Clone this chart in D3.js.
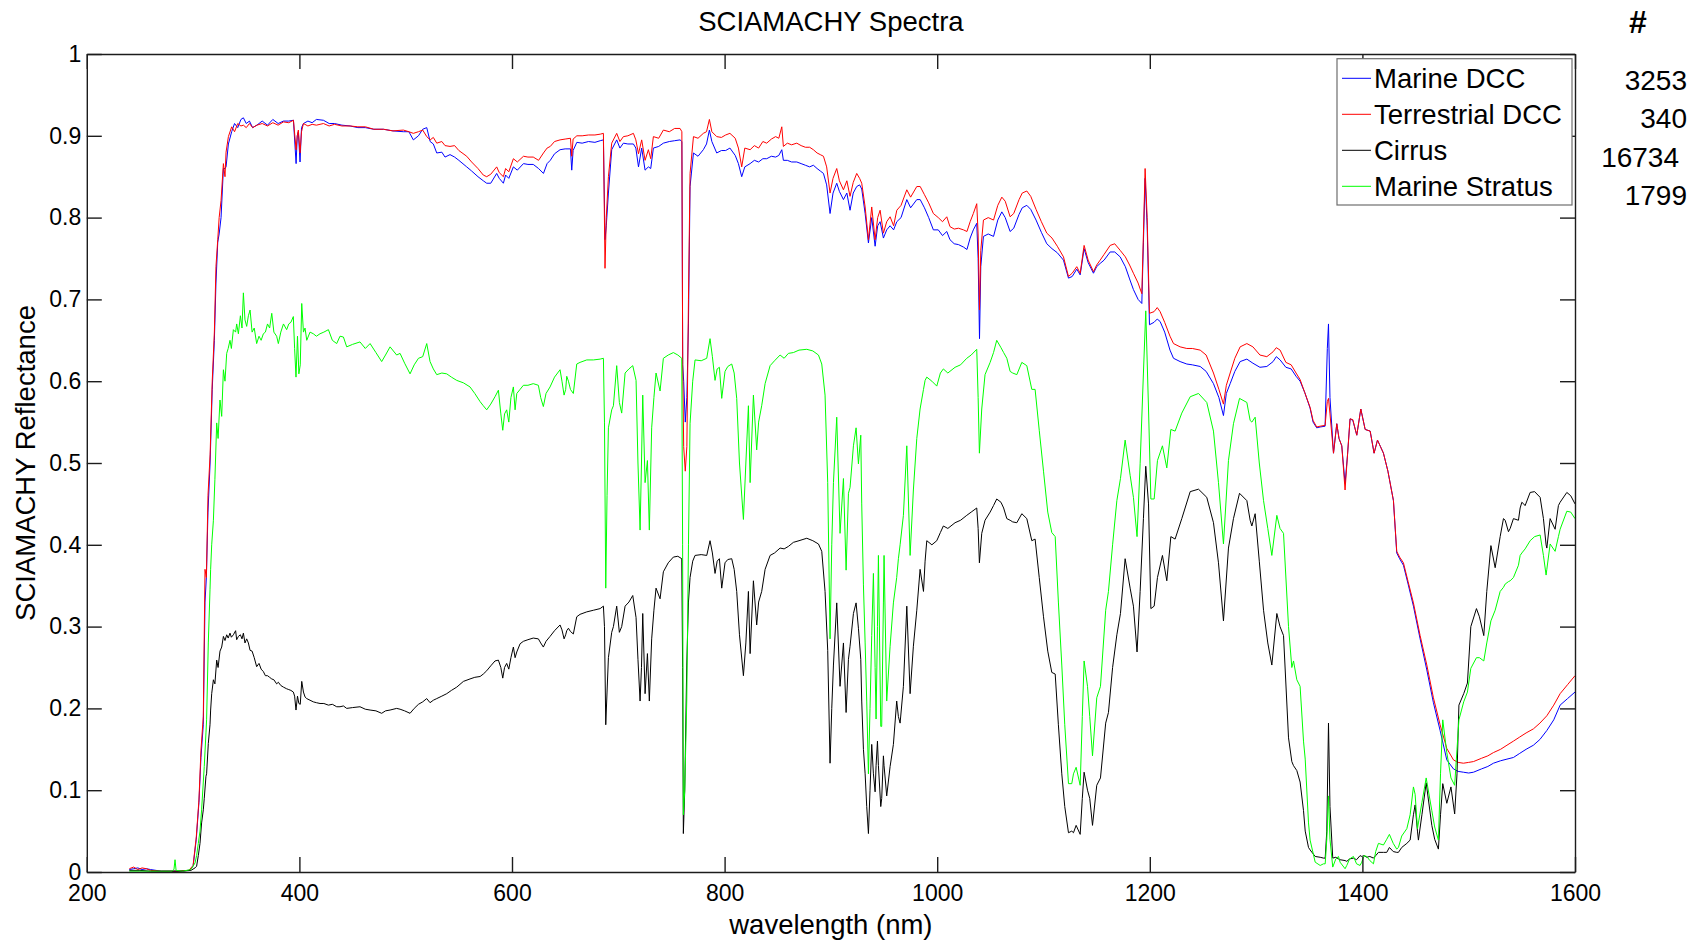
<!DOCTYPE html>
<html>
<head>
<meta charset="utf-8">
<script src="https://cdn.jsdelivr.net/npm/d3@7"></script>
<style>
  html, body { margin: 0; padding: 0; background: #fff; }
  svg { display: block; }
  text { font-family: "Liberation Sans", Arial, Helvetica, sans-serif; fill: #000; }
</style>
</head>
<body>
<svg id="chart" width="1701" height="943"></svg>
<script>
// ---------------------------------------------------------------
// Mean SCIAMACHY reflectance spectra for four cloud classes
// ---------------------------------------------------------------

// Wavelength grid (nm) shared by the two deep-convective-cloud spectra
const dccWavelength = [
  240, 244, 248, 252, 256, 260, 270, 285, 296, 300, 303, 305.5, 307.4, 309.6, 311.2, 312.5, 314, 316, 318, 320, 321.5, 323.2, 324.5, 326.3, 328.5, 330, 331, 333.2, 336.3,
  339, 342, 345, 347.3, 350, 353, 356, 360, 365, 370, 375, 380, 385, 390, 394.4, 396.9, 398, 399, 400.6, 402, 403.8,
  408, 412, 416, 422.6, 428, 433, 440, 447.7, 455, 462, 470, 479, 488, 497.8,
  503, 507.2, 512, 516, 519.8, 523, 526, 529.2, 534, 537, 541.7, 546, 550, 557.4, 562, 568, 573, 576.2, 580, 585.6, 588, 591.9, 594, 597,
  601.3, 605, 610.8, 615, 620, 625, 629.6, 633, 636, 640, 645.2, 650, 655, 656.2, 657.5, 661, 666, 672, 678, 683, 686, 687.5, 688.7, 690.7, 693.8, 698.5,
  701.5, 704.8, 709, 714.2, 716.5, 719, 722, 725.2, 728.3, 730.5, 733, 738, 742.4, 748, 753, 758.1, 759.8, 760.6, 761.5, 763, 764.5, 766, 767.5, 770.7, 775, 780, 783, 785.7, 788, 792.6, 797,
  801, 805, 810, 813, 816.1, 819, 824, 828, 832, 836, 839.6, 844, 848, 851, 853.8, 855.3, 859, 863, 867.9, 872, 876, 880, 883.5, 887, 890, 893, 896, 899.2,
  902, 905.5, 908, 911.8, 915, 918, 921, 924.3, 927, 929, 932.2, 935.3, 938.4, 941.6, 944, 946.3, 949.4, 952.5, 955.7, 959, 962, 966, 971.4, 975, 980.8, 984, 988, 992, 996.4,
  1001, 1005, 1009, 1012, 1016, 1020, 1024.7, 1028, 1031, 1034, 1037.2, 1038.5, 1039.8, 1041, 1043.5, 1048, 1053, 1057, 1060.8, 1064, 1068.6, 1072, 1077, 1080, 1084.3, 1088, 1093, 1098,
  1103.1, 1108, 1113, 1118.8, 1123.5, 1127, 1131.3, 1134.5, 1138.2, 1142, 1147, 1150, 1153.3, 1157, 1162.7, 1167, 1172.1, 1177, 1181, 1184.6, 1189, 1192.5, 1194, 1195.6, 1197.5, 1199.7,
  1204, 1207, 1209.7, 1214, 1219, 1222.3, 1228.5, 1234.8, 1240, 1247.4, 1253, 1259.9, 1265, 1269.3, 1272, 1275.6, 1280, 1285, 1291.3, 1297,
  1303.6, 1310.1, 1316, 1319, 1322.6, 1328, 1333, 1337.6, 1341.4, 1345.8, 1350.8, 1353.6, 1357, 1360.2, 1364.9, 1367, 1368.1, 1369.5, 1372.8, 1375.9, 1378, 1380.6, 1383.7, 1386, 1388.4, 1391, 1394.7, 1398.5,
  1402.6, 1407.3, 1411, 1414.2, 1417, 1419.8, 1424, 1429.2, 1432.3, 1435, 1438.6, 1443, 1448, 1454.3, 1460.6, 1466.8, 1473.1, 1479.4, 1485.7, 1490, 1495,
  1500, 1504.5, 1512, 1518, 1523.3, 1530, 1536, 1542.1, 1548, 1554, 1560.9, 1567, 1573.5, 1580, 1586, 1593, 1600
];

const terrestrialDCC = [
  .004, .006, .003, .005, .004, .002, .001, .001, .002, .008, .043, .088, .149, .19, .37, .36, .46, .51, .60, .66, .74, .773, .80, .821, .866, .85, .88, .899, .911,
  .905, .915, .912, .913, .91, .915, .91, .913, .915, .912, .916, .913, .917, .916, .919, .883, .90, .907, .879, .905, .915,
  .912, .914, .913, .915, .912, .914, .912, .912, .911, .911, .908, .908, .906, .907,
  .905, .903, .905, .907, .899, .895, .898, .891, .893, .888, .887, .888, .882, .875, .868, .86, .852, .85, .853, .862, .855, .85, .86, .856,
  .872, .868, .875, .874, .874, .87, .879, .885, .887, .893, .895, .896, .897, .875, .896, .9, .9, .901, .901, .902, .903, .738, .80, .85, .891, .903,
  .893, .899, .9, .903, .895, .878, .895, .87, .883, .872, .899, .897, .907, .905, .909, .909, .905, .62, .52, .49, .52, .70, .854, .899, .897, .903, .905, .92, .905, .899, .898,
  .901, .903, .897, .885, .862, .885, .883, .888, .885, .893, .891, .896, .899, .897, .911, .887, .891, .889, .891, .888, .886, .886, .883, .879, .877, .875, .862, .83,
  .848, .86, .845, .834, .845, .826, .843, .854, .848, .842, .813, .773, .813, .773, .80, .809, .781, .795, .801, .79, .809, .815, .834, .825, .838, .838, .828, .818, .805,
  .80, .795, .801, .789, .786, .787, .785, .783, .795, .805, .817, .78, .687, .76, .797, .80, .797, .815, .825, .82, .801, .805, .822, .83, .8325, .826, .81, .795,
  .781, .775, .765, .752, .728, .732, .74, .732, .766, .748, .734, .742, .748, .755, .766, .768, .76, .752, .742, .732, .72, .707, .78, .86, .80, .683,
  .685, .69, .685, .672, .655, .646, .642, .64, .64, .638, .632, .61, .59, .572, .595, .61, .628, .642, .646, .642,
  .632, .63, .636, .641, .638, .623, .62, .61, .602, .586, .568, .552, .544, .545, .546, .575, .579, .56, .512, .548, .53, .521, .467, .51, .554, .553, .534, .566,
  .541, .539, .512, .528, .52, .512, .49, .454, .392, .385, .378, .355, .329, .289, .253, .213, .18, .151, .137, .134, .133,
  .134, .135, .139, .142, .146, .15, .155, .16, .165, .17, .175, .182, .191, .204, .218, .229, .24
];

const marineDCC = [
  .003, .004, .005, .003, .004, .003, .001, .001, .002, .007, .040, .085, .140, .18, .33, .36, .44, .50, .59, .65, .72, .77, .78, .80, .86, .86, .862, .89, .905,
  .915, .91, .92, .922, .915, .918, .91, .913, .918, .913, .92, .915, .918, .918, .919, .866, .90, .905, .868, .91, .915,
  .918, .916, .92, .919, .915, .915, .913, .912, .91, .91, .908, .908, .906, .905,
  .905, .895, .90, .908, .91, .893, .89, .879, .88, .874, .877, .874, .87, .862, .857, .85, .845, .842, .842, .854, .848, .842, .852, .848,
  .862, .858, .866, .865, .865, .86, .854, .866, .87, .878, .883, .884, .884, .858, .882, .892, .891, .893, .892, .894, .895, .773, .79, .83, .883, .895,
  .885, .891, .89, .89, .885, .862, .885, .858, .862, .86, .885, .887, .891, .893, .894, .895, .893, .62, .60, .55, .58, .67, .838, .879, .875, .883, .89, .907, .893, .879, .882,
  .882, .885, .876, .866, .85, .862, .866, .87, .868, .872, .872, .875, .874, .876, .883, .87, .87, .868, .868, .866, .864, .862, .864, .86, .857, .854, .84, .805,
  .83, .842, .832, .822, .83, .809, .83, .838, .84, .835, .805, .769, .80, .765, .79, .795, .775, .785, .79, .785, .795, .80, .822, .812, .822, .822, .812, .80, .785,
  .785, .778, .783, .773, .768, .767, .764, .761, .775, .785, .793, .75, .652, .74, .777, .78, .777, .797, .807, .80, .783, .787, .804, .812, .815, .81, .797, .782,
  .768, .762, .757, .748, .726, .728, .737, .73, .762, .745, .732, .74, .744, .748, .758, .758, .752, .74, .725, .712, .70, .695, .77, .848, .79, .669,
  .672, .676, .673, .66, .638, .628, .624, .621, .62, .618, .612, .597, .58, .558, .585, .597, .612, .624, .627, .622,
  .617, .618, .624, .63, .626, .617, .615, .606, .60, .586, .567, .55, .543, .544, .545, .64, .67, .58, .512, .548, .53, .521, .475, .51, .554, .552, .534, .566,
  .541, .539, .512, .528, .52, .512, .49, .454, .39, .383, .375, .352, .325, .285, .247, .207, .173, .137, .126, .123, .122,
  .121, .122, .126, .129, .133, .136, .138, .14, .145, .15, .155, .162, .173, .186, .204, .212, .22
];

// Wavelength grid (nm) shared by the cirrus and marine stratus spectra
const cloudWavelength = [
  240, 250, 260, 270, 280, 282, 283, 284, 290, 298, 301.8, 303.3, 304.9, 306.5, 308, 309.6, 310.5, 312.1, 312.7, 314.3, 315.9, 316.5, 317.5, 319.1, 320.5, 322.2, 323.5, 325.3, 326.9, 328.5, 330, 331.6, 333, 334.7, 336, 337.9, 340,
  341, 342.6, 344.5, 346, 347.3, 348.8, 350.4, 352, 353.6, 355.5, 357.5, 359.8, 362, 364, 366.1, 368, 370, 372, 374, 376, 378.6, 380.2, 382.5, 385, 388, 390, 392, 394.3, 395.5, 396.8, 398.2, 399.5, 400.8,
  402.2, 403.8, 405.3, 406.9, 410, 413.1, 416, 419.4, 423, 427.3, 431, 435.1, 438.2, 441.4, 444.5, 450, 457, 462, 466.5, 472, 477.4, 481, 485.3, 491.5, 494.7, 499,
  504.1, 508, 512, 516, 519.8, 522.9, 526, 529.2, 534, 538.6, 543, 548, 554.3, 560.5, 565, 570, 573, 576.2, 580, 584, 587.2, 589.5, 591.3, 593, 595, 597, 599,
  601.3, 602.9, 604.5, 607.6, 610.7, 615, 620, 624.8, 627, 629.5, 632, 635.8, 640, 645.2, 647, 649, 650.5, 651.5, 653.1, 655, 657.7, 660.9, 664, 670.3, 676.6, 682.9, 686, 687, 688.2, 689.4, 690.7, 693.8, 695.4, 698.5,
  701, 703.2, 706.4, 710, 713.6, 716.7, 718.5, 720.5, 721.8, 723, 725.2, 727.4, 729.2, 731.4, 733.5, 735.5, 739.3, 742.4, 747, 751.8, 756, 759.7, 760.5, 761.2, 762.5, 764.4, 766, 767.5, 770, 772.2, 778, 783.2, 786.3, 788.5, 791, 793, 795.1, 797.3,
  800.4, 803, 806.7, 809, 811.4, 814, 817.7, 820, 822.4, 824, 827.1, 830.2, 832, 834.9, 838.1, 842.8, 847, 852.2, 856, 860, 864.7, 870, 877.3, 883, 888.3, 891.4, 894.5, 897, 899.2,
  900.8, 902.4, 905.5, 908.6, 911.8, 914.3, 916.5, 918, 921.2, 923.7, 925.9, 928.1, 929, 930.6, 932.2, 933.7, 935.3, 936.8, 938.4, 940, 941.6, 942.5, 943.8, 944.7, 946.9, 947.8, 949.4, 950, 952.5, 955.7, 958.8, 961.9, 963.5, 965.1, 968.2, 971.4, 974.5, 977.6, 980.8, 983.9, 987.1, 988.6, 990.2, 995, 999.6,
  1003, 1005.8, 1010, 1016.8, 1022, 1027.8, 1032, 1037.2, 1038.5, 1039.7, 1041.9, 1045, 1049.8, 1053, 1056, 1060, 1062.5, 1065.5, 1068.6, 1071, 1074.9, 1079.6, 1084.3, 1089, 1092.1, 1096,
  1100, 1104, 1107.8, 1111, 1114, 1117.2, 1120, 1123.5, 1126.6, 1128.2, 1130.7, 1134.5, 1136.5, 1138.2, 1141.4, 1143.5, 1146.1, 1150.1, 1153.6, 1158.5, 1161.1, 1165, 1169, 1172.4, 1176.8, 1181.5, 1184.6, 1188, 1190.9, 1194, 1196.2, 1198.8,
  1201, 1204.1, 1207.2, 1211.9, 1216, 1219.8, 1223.8, 1230.1, 1238, 1245.8, 1253.6, 1259.9, 1264.6, 1269.3, 1274, 1278.7, 1284.4, 1291.3, 1294.4, 1296, 1299.1,
  1303, 1307, 1311, 1314.8, 1319.5, 1322.5, 1325.8, 1330.5, 1333.6, 1335.2, 1338.3, 1341.4, 1344.6, 1346.2, 1349.3, 1350.8, 1355.6, 1360.3, 1363.4, 1365, 1366.5, 1368.1, 1369.5, 1372.1, 1375, 1377.5, 1379, 1383.7, 1385.3, 1388, 1391.6, 1394.5, 1397.8, 1399.4,
  1401.5, 1404.1, 1407, 1410.4, 1412.5, 1415.1, 1419.8, 1422.9, 1425.4, 1429, 1432.3, 1433.9, 1437, 1441.8, 1444.9, 1448, 1449.6, 1451.8, 1452.7, 1456, 1460, 1465.3, 1468, 1471.5, 1473.5, 1475.6, 1479.4, 1483.3, 1486.8, 1489, 1490.8, 1495.3, 1498.8,
  1502, 1507.3, 1510.1, 1514.2, 1517, 1520.9, 1524.9, 1529.6, 1532.7, 1534.3, 1537.4, 1539, 1542.1, 1546.8, 1548.4, 1550, 1553.1, 1557.8, 1562, 1567.2, 1570.3, 1572.8, 1573.5, 1576.6, 1581.3, 1584.4, 1586, 1592.3, 1596, 1600
];

const cirrus = [
  .002, .002, .001, .001, .001, .001, .001, .001, .001, .002, .005, .007, .02, .035, .06, .076, .09, .117, .12, .157, .18, .198, .218, .235, .23, .259, .25, .27, .275, .288, .283, .29, .286, .292, .287, .29, .295,
  .284, .288, .29, .285, .292, .28, .285, .28, .271, .27, .262, .251, .255, .248, .245, .24, .24, .238, .236, .235, .23, .232, .228, .226, .224, .223, .222, .22, .215, .198, .215, .206, .205,
  .233, .22, .214, .212, .21, .208, .207, .206, .206, .204, .205, .202, .202, .203, .2, .201, .202, .199, .198, .197, .194, .197, .198, .2, .199, .197,
  .194, .2, .205, .208, .212, .207, .21, .212, .215, .218, .222, .226, .233, .236, .238, .239, .242, .246, .252, .258, .259, .25, .237, .25, .255, .248, .262,
  .275, .262, .269, .279, .282, .284, .286, .285, .28, .275, .282, .288, .295, .302, .296, .285, .29, .295, .298, .294, .291, .312, .315, .318, .32, .322, .325, .30, .18, .22, .262, .293, .30, .325,
  .293, .30, .325, .33, .338, .311, .26, .209, .25, .316, .218, .267, .209, .285, .32, .347, .334, .367, .378, .385, .386, .383, .25, .047, .10, .253, .33, .36, .38, .387, .388, .387, .405, .39, .365, .38, .383, .347,
  .378, .382, .383, .37, .343, .29, .24, .28, .343, .267, .356, .302, .33, .343, .37, .387, .39, .396, .395, .398, .403, .405, .408, .405, .401, .392, .343, .271, .133,
  .2, .253, .329, .227, .28, .195, .26, .276, .316, .329, .298, .26, .209, .15, .12, .08, .047, .10, .156, .12, .098, .13, .16, .13, .08, .09, .142, .13, .093, .129, .156, .209, .19, .182, .227, .325, .218, .276, .32, .37, .343, .38, .405, .40, .405,
  .415, .423, .42, .427, .43, .436, .44, .445, .42, .378, .414, .43, .44, .448, .456, .452, .445, .432, .43, .428, .427, .438, .432, .405, .407, .36,
  .312, .27, .244, .242, .18, .12, .08, .048, .05, .048, .057, .046, .09, .122, .1, .09, .057, .106, .115, .182, .195, .25, .29, .316, .383, .347, .325, .269, .343, .432, .496, .45,
  .322, .325, .36, .387, .356, .41, .407, .432, .465, .468, .458, .427, .378, .307, .396, .432, .463, .454, .43, .423, .438,
  .38, .32, .28, .253, .316, .30, .289, .164, .135, .13, .124, .11, .075, .05, .03, .027, .019, .018, .017, .017, .05, .182, .08, .017, .018, .016, .015, .014, .013, .016, .017, .015, .02, .019,
  .02, .018, .019, .017, .02, .024, .024, .024, .03, .025, .024, .024, .03, .035, .039, .07, .082, .05, .039, .07, .109, .057, .04, .028, .07, .108, .084, .104, .071, .12, .204, .218, .231,
  .30, .322, .312, .289, .343, .399, .372, .41, .432, .43, .416, .42, .432, .43, .445, .452, .448, .464, .465, .458, .432, .40, .396, .432, .419, .448, .452, .464, .46, .45
];

const marineStratus = [
  .001, .001, .001, .001, .001, .003, .015, .002, .001, .003, .011, .02, .035, .05, .076, .11, .129, .17, .186, .28, .345, .37, .40, .43, .48, .549, .53, .577, .557, .614, .60, .634, .64, .65, .64, .663, .66,
  .67, .658, .68, .665, .708, .675, .667, .68, .687, .66, .665, .646, .655, .65, .658, .66, .67, .665, .683, .66, .655, .646, .66, .67, .663, .67, .672, .679, .64, .605, .655, .609, .62,
  .695, .66, .665, .65, .66, .658, .655, .658, .66, .663, .65, .646, .655, .654, .642, .645, .648, .64, .646, .635, .624, .632, .642, .632, .634, .622,
  .609, .62, .628, .63, .646, .624, .615, .608, .61, .609, .605, .601, .598, .593, .585, .575, .57, .565, .572, .581, .589, .56, .54, .56, .565, .55, .58,
  .593, .565, .585, .59, .595, .595, .597, .595, .58, .569, .585, .593, .605, .614, .60, .583, .59, .606, .60, .59, .585, .621, .623, .626, .626, .627, .628, .55, .347, .46, .543, .565, .57, .619,
  .574, .561, .61, .615, .619, .601, .50, .418, .50, .583, .476, .503, .418, .543, .58, .61, .588, .628, .632, .635, .632, .628, .40, .07, .10, .209, .40, .548, .60, .626, .625, .628, .652, .63, .601, .615, .617, .579,
  .612, .618, .621, .61, .579, .50, .431, .50, .57, .476, .583, .516, .55, .57, .597, .619, .625, .632, .628, .634, .635, .638, .639, .637, .632, .621, .583, .476, .285,
  .40, .476, .556, .414, .481, .369, .463, .47, .521, .543, .499, .534, .45, .351, .28, .209, .12, .2, .289, .365, .25, .187, .3, .387, .178, .178, .33, .387, .209, .276, .329, .36, .383, .40, .436, .521, .387, .467, .53, .566, .59, .601, .605, .60, .594,
  .61, .615, .61, .617, .62, .628, .632, .639, .58, .512, .566, .608, .623, .635, .65, .641, .635, .628, .612, .61, .608, .623, .619, .59, .59, .54,
  .49, .44, .415, .41, .33, .253, .18, .108, .108, .12, .128, .106, .19, .258, .227, .19, .142, .213, .227, .32, .343, .40, .454, .481, .528, .485, .458, .41, .499, .61, .686, .566,
  .456, .456, .503, .521, .494, .541, .539, .561, .581, .585, .574, .539, .476, .401, .503, .548, .579, .574, .552, .55, .556,
  .50, .454, .42, .387, .436, .42, .414, .30, .25, .258, .235, .227, .16, .138, .06, .039, .012, .008, .01, .01, .04, .093, .04, .006, .016, .019, .012, .004, .008, .016, .019, .01, .008, .012,
  .02, .019, .014, .01, .025, .035, .033, .04, .046, .035, .028, .03, .044, .053, .07, .104, .095, .053, .06, .085, .115, .075, .055, .039, .12, .186, .146, .115, .106, .15, .186, .208, .22,
  .249, .262, .262, .258, .28, .307, .32, .343, .348, .352, .355, .356, .36, .375, .387, .39, .395, .405, .41, .412, .387, .363, .37, .401, .392, .41, .419, .441, .44, .432
];

// Legend entries, drawing colours and the number of averaged spectra per class
const seriesNames = ["Marine DCC", "Terrestrial DCC", "Cirrus", "Marine Stratus"];
const seriesColors = ["#0000ff", "#ff0000", "#000000", "#00ff00"];
const sampleCounts = ["3253", "340", "16734", "1799"];

// Axis ticks
const xTicks = [200, 400, 600, 800, 1000, 1200, 1400, 1600];
const yTicks = [0, 0.1, 0.2, 0.3, 0.4, 0.5, 0.6, 0.7, 0.8, 0.9, 1];

// ---------------------------------------------------------------
const pairs = [
  [dccWavelength, marineDCC],
  [dccWavelength, terrestrialDCC],
  [cloudWavelength, cirrus],
  [cloudWavelength, marineStratus]
];
pairs.forEach(([w, v], i) => {
  if (w.length !== v.length) throw new Error(seriesNames[i] + ": " + w.length + " wavelengths vs " + v.length + " values");
});

const W = 1701, H = 943;
const plot = { left: 86.8, right: 1575, top: 54, bottom: 872 };
const labelFont = 27.5, tickFont = 23;

const svg = d3.select("#chart");
svg.append("rect").attr("width", W).attr("height", H).attr("fill", "#fff");

const x = d3.scaleLinear().domain([200, 1600]).range([plot.left, plot.right]);
const y = d3.scaleLinear().domain([0, 1]).range([plot.bottom, plot.top]);

svg.append("clipPath").attr("id", "plot-clip")
  .append("rect")
  .attr("x", plot.left).attr("y", plot.top)
  .attr("width", plot.right - plot.left).attr("height", plot.bottom - plot.top);

// Spectra, drawn in legend order
const lines = svg.append("g").attr("clip-path", "url(#plot-clip)");
pairs.forEach(([w, v], i) => {
  const gen = d3.line().x((d, k) => x(w[k])).y(d => y(d));
  lines.append("path")
    .attr("d", gen(v))
    .attr("fill", "none")
    .attr("stroke", seriesColors[i])
    .attr("stroke-width", 1)
    .attr("stroke-linejoin", "round");
});

// Axes: box with inward ticks on all four sides
const tickLen = 15;
const axisColor = "#1c1c1c";
const fmtY = d => String(+d.toFixed(1));

function styleAxis(g) {
  g.select(".domain").attr("stroke", axisColor).attr("stroke-width", 1.4);
  g.selectAll(".tick line").attr("stroke", axisColor).attr("stroke-width", 1.4);
  g.selectAll(".tick text")
    .attr("font-family", '"Liberation Sans", Arial, sans-serif')
    .attr("font-size", tickFont)
    .attr("fill", "#000");
}

svg.append("g")
  .attr("transform", `translate(0,${plot.bottom})`)
  .call(d3.axisBottom(x).tickValues(xTicks).tickSizeInner(-tickLen).tickSizeOuter(0).tickPadding(13).tickFormat(d3.format("d")))
  .call(styleAxis);

svg.append("g")
  .attr("transform", `translate(0,${plot.top})`)
  .call(d3.axisTop(x).tickValues(xTicks).tickSizeInner(-tickLen).tickSizeOuter(0).tickFormat(""))
  .call(styleAxis);

svg.append("g")
  .attr("transform", `translate(${plot.left},0)`)
  .call(d3.axisLeft(y).tickValues(yTicks).tickSizeInner(-tickLen).tickSizeOuter(0).tickPadding(5.5).tickFormat(fmtY))
  .call(styleAxis);

svg.append("g")
  .attr("transform", `translate(${plot.right},0)`)
  .call(d3.axisRight(y).tickValues(yTicks).tickSizeInner(-tickLen).tickSizeOuter(0).tickFormat(""))
  .call(styleAxis);

// Titles
svg.append("text")
  .attr("x", (plot.left + plot.right) / 2).attr("y", 31)
  .attr("text-anchor", "middle").attr("font-size", labelFont)
  .text("SCIAMACHY Spectra");

svg.append("text")
  .attr("x", (plot.left + plot.right) / 2).attr("y", 934)
  .attr("text-anchor", "middle").attr("font-size", labelFont)
  .text("wavelength (nm)");

svg.append("text")
  .attr("transform", `translate(34.5,${(plot.top + plot.bottom) / 2}) rotate(-90)`)
  .attr("text-anchor", "middle").attr("font-size", labelFont)
  .text("SCIAMACHY Reflectance");

// Legend
const legend = { x: 1337, y: 58.7, w: 235, h: 146.3, rows: [78.3, 114.3, 150.3, 186.3] };
const lg = svg.append("g");
lg.append("rect")
  .attr("x", legend.x).attr("y", legend.y)
  .attr("width", legend.w).attr("height", legend.h)
  .attr("fill", "#fff").attr("stroke", "#6e6e6e").attr("stroke-width", 1.2);
seriesNames.forEach((name, i) => {
  const cy = legend.rows[i];
  lg.append("line")
    .attr("x1", 1342).attr("x2", 1371).attr("y1", cy).attr("y2", cy)
    .attr("stroke", seriesColors[i]).attr("stroke-width", 1);
  lg.append("text")
    .attr("x", 1374).attr("y", cy + 0.358 * labelFont)
    .attr("font-size", labelFont)
    .text(name);
});

// Number of spectra in each class
const countFont = '"Open Sans", "Noto Sans", sans-serif';
svg.append("text")
  .attr("x", 1638).attr("y", 33)
  .attr("text-anchor", "middle")
  .attr("font-family", countFont).attr("font-weight", "bold").attr("font-size", 32)
  .text("#");
const countRows = [80, 118, 157, 195];
const countRight = [1687, 1687, 1679, 1687];
sampleCounts.forEach((c, i) => {
  svg.append("text")
    .attr("x", countRight[i]).attr("y", countRows[i] + 10)
    .attr("text-anchor", "end")
    .attr("font-family", countFont).attr("font-size", 28)
    .text(c);
});
</script>
</body>
</html>
